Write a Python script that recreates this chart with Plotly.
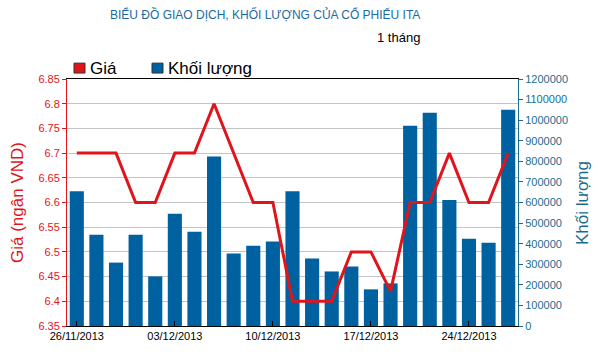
import plotly.graph_objects as go

dates = ["26/11/2013", "27/11/2013", "28/11/2013", "29/11/2013", "02/12/2013",
         "03/12/2013", "04/12/2013", "05/12/2013", "06/12/2013", "09/12/2013",
         "10/12/2013", "11/12/2013", "12/12/2013", "13/12/2013", "16/12/2013",
         "17/12/2013", "18/12/2013", "19/12/2013", "20/12/2013", "23/12/2013",
         "24/12/2013", "25/12/2013", "26/12/2013"]
price = [6.7, 6.7, 6.7, 6.6, 6.6, 6.7, 6.7, 6.8, 6.7, 6.6,
         6.6, 6.4, 6.4, 6.4, 6.5, 6.5, 6.42, 6.6, 6.6, 6.7,
         6.6, 6.6, 6.7]
volume = [655000, 443000, 308000, 443000, 241000, 545000, 458000, 824000, 352000, 390000,
          410000, 655000, 328000, 265000, 289000, 178000, 207000, 973000, 1036000, 612000,
          424000, 405000, 1051000]
tick_dates = ["26/11/2013", "03/12/2013", "10/12/2013", "17/12/2013", "24/12/2013"]

title_text = "BIỂU ĐỒ GIAO DỊCH, KHỐI LƯỢNG CỦA CỔ PHIẾU ITA"
period_text = "1 tháng"
price_name = "Giá"
volume_name = "Khối lượng"
price_axis_title = "Giá (ngân VND)"
volume_axis_title = "Khối lượng"

RED = "#e0141b"
BLUE = "#0061a0"
TEAL = "#1b6d8f"
FONT = "Liberation Sans, Arial, sans-serif"

fig = go.Figure()
fig.add_trace(go.Bar(x=dates, y=volume, name=volume_name, marker_color=BLUE,
                     marker_line_width=0, yaxis="y"))
fig.add_trace(go.Scatter(x=dates, y=price, name=price_name, mode="lines",
                         line=dict(color=RED, width=3), yaxis="y2"))

fig.update_layout(
    width=600, height=354,
    margin=dict(l=67, r=82, t=79, b=26),
    paper_bgcolor="white", plot_bgcolor="white",
    showlegend=False,
    bargap=0.28,
    font=dict(family=FONT, size=11, color="black"),
    xaxis=dict(type="category", range=[-0.5, len(dates) - 0.5],
               tickmode="array", tickvals=tick_dates, ticktext=tick_dates,
               showline=True, linecolor="black", linewidth=1, mirror=True,
               ticks="inside", ticklen=5, tickcolor="black",
               showgrid=False, tickfont=dict(size=11, color="black")),
    yaxis=dict(side="right", range=[0, 1200000], dtick=100000, tick0=0,
               tickformat="d", showgrid=False, zeroline=False,
               showline=True, linecolor=TEAL, linewidth=1,
               ticks="outside", ticklen=4, tickcolor=TEAL,
               tickfont=dict(size=11, color=TEAL)),
    yaxis2=dict(side="left", overlaying="y", range=[6.35, 6.85], dtick=0.05, tick0=6.35,
                showgrid=True, gridcolor="#c4c4c4", gridwidth=1, zeroline=False,
                showline=True, linecolor=RED, linewidth=1,
                ticks="outside", ticklen=4, tickcolor=RED,
                tickfont=dict(size=11, color=RED)),
)

def px_x(px):
    return (px - 67) / 451.0

def px_y(py):
    return (328 - py) / 249.0

annotations = [
    dict(text=title_text, x=px_x(265), y=px_y(14), xref="paper", yref="paper",
         showarrow=False, xanchor="center", yanchor="middle",
         font=dict(family="Liberation Sans Narrow, Arial Narrow, " + FONT, size=12, color="#1a6ba3")),
    dict(text=period_text, x=px_x(398), y=px_y(37), xref="paper", yref="paper",
         showarrow=False, xanchor="center", yanchor="middle",
         font=dict(family=FONT, size=13, color="black")),
    dict(text=price_name, x=px_x(88), y=px_y(68), xref="paper", yref="paper",
         showarrow=False, xanchor="left", yanchor="middle",
         font=dict(family=FONT, size=17, color="black")),
    dict(text=volume_name, x=px_x(166), y=px_y(68), xref="paper", yref="paper",
         showarrow=False, xanchor="left", yanchor="middle",
         font=dict(family=FONT, size=17, color="black")),
    dict(text=price_axis_title, x=px_x(18), y=px_y(204), xref="paper", yref="paper",
         showarrow=False, xanchor="center", yanchor="middle", textangle=-90,
         font=dict(family=FONT, size=17, color=RED)),
    dict(text=volume_axis_title, x=px_x(583), y=px_y(204), xref="paper", yref="paper",
         showarrow=False, xanchor="center", yanchor="middle", textangle=-90,
         font=dict(family=FONT, size=17, color=TEAL)),
]
fig.update_layout(annotations=annotations)

shapes = [
    dict(type="rect", xref="paper", yref="paper", x0=px_x(74), x1=px_x(85),
         y0=px_y(73), y1=px_y(63), fillcolor=RED, line=dict(color="#333333", width=1)),
    dict(type="rect", xref="paper", yref="paper", x0=px_x(152), x1=px_x(163),
         y0=px_y(73), y1=px_y(63), fillcolor=BLUE, line=dict(color="#333333", width=1)),
]
fig.update_layout(shapes=shapes)

fig.write_html("out.html")
